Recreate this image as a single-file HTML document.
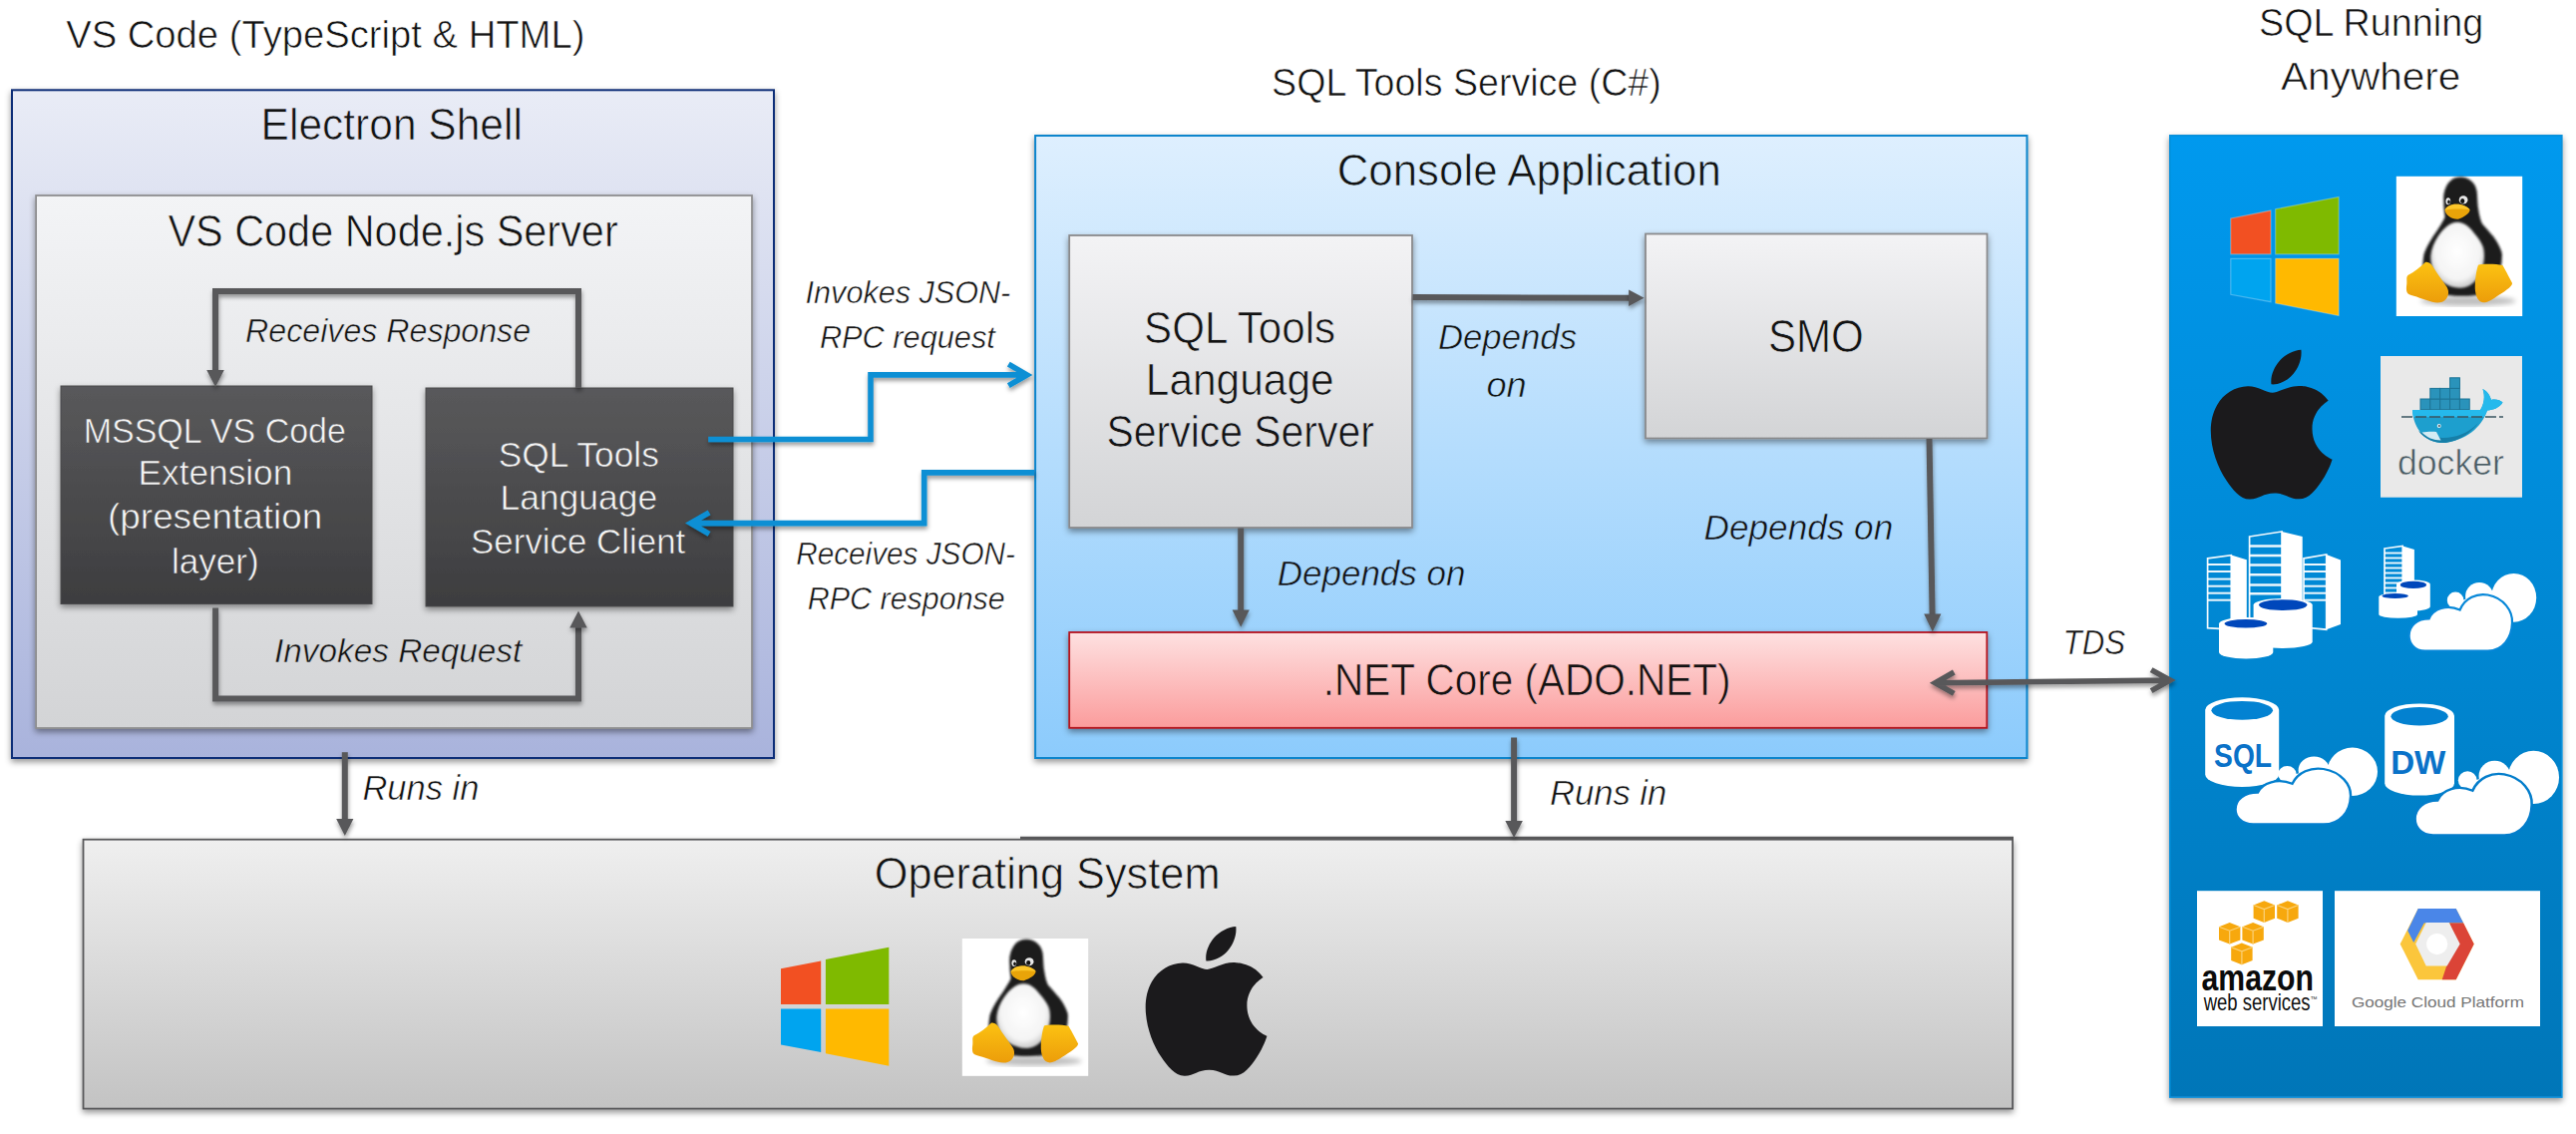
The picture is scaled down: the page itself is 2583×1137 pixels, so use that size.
<!DOCTYPE html>
<html lang="en"><head><meta charset="utf-8"><title>SQL Tools Service architecture</title>
<style>
html,body{margin:0;padding:0;background:#fff;}
body{width:2583px;height:1137px;overflow:hidden;}
svg{display:block;}
text{font-family:"Liberation Sans", Arial, sans-serif;}
</style></head><body>
<svg width="2583" height="1137" viewBox="0 0 2583 1137">
<defs>
<linearGradient id="gElectron" x1="0" y1="0" x2="0" y2="1"><stop offset="0" stop-color="#e9ecf6"/><stop offset="1" stop-color="#a9b3dc"/></linearGradient>
<linearGradient id="gNode" x1="0" y1="0" x2="0" y2="1"><stop offset="0" stop-color="#f3f4f6"/><stop offset="1" stop-color="#d3d4d6"/></linearGradient>
<linearGradient id="gDark" x1="0" y1="0" x2="0" y2="1"><stop offset="0" stop-color="#59595b"/><stop offset="1" stop-color="#3d3d3f"/></linearGradient>
<linearGradient id="gConsole" x1="0" y1="0" x2="0" y2="1"><stop offset="0" stop-color="#deeffe"/><stop offset="1" stop-color="#8ccbfc"/></linearGradient>
<linearGradient id="gGrey" x1="0" y1="0" x2="0" y2="1"><stop offset="0" stop-color="#f3f3f5"/><stop offset="1" stop-color="#d3d4d6"/></linearGradient>
<linearGradient id="gRed" x1="0" y1="0" x2="0" y2="1"><stop offset="0" stop-color="#fee1e1"/><stop offset="1" stop-color="#fb9c9c"/></linearGradient>
<linearGradient id="gOS" x1="0" y1="0" x2="0" y2="1"><stop offset="0" stop-color="#efefef"/><stop offset="1" stop-color="#c3c3c3"/></linearGradient>
<linearGradient id="gPanel" x1="0" y1="0" x2="0" y2="1"><stop offset="0" stop-color="#0099ee"/><stop offset="1" stop-color="#0076b8"/></linearGradient>
<filter id="sh" x="-5%" y="-5%" width="110%" height="115%"><feDropShadow dx="0" dy="3" stdDeviation="3" flood-color="#000" flood-opacity="0.42"/></filter>
<filter id="shl" x="0" y="0" width="2583" height="1137" filterUnits="userSpaceOnUse"><feDropShadow dx="0.5" dy="3" stdDeviation="2.2" flood-color="#000" flood-opacity="0.4"/></filter>
</defs>
<rect width="2583" height="1137" fill="#fff"/>

<rect x="12" y="90.3" width="764.0" height="669.7" fill="url(#gElectron)" stroke="#0a2d78" stroke-width="2" filter="url(#sh)"/>
<rect x="36.1" y="196" width="717.9" height="534.0" fill="url(#gNode)" stroke="#8e8e90" stroke-width="1.8" filter="url(#sh)"/>
<rect x="61" y="387" width="312.0" height="218.5" fill="url(#gDark)" stroke="#4a4a4c" stroke-width="1" filter="url(#sh)"/>
<rect x="427" y="389" width="308.0" height="219.0" fill="url(#gDark)" stroke="#4a4a4c" stroke-width="1" filter="url(#sh)"/>
<rect x="1038.1" y="136" width="994.4" height="624.0" fill="url(#gConsole)" stroke="#0a85cc" stroke-width="2" filter="url(#sh)"/>
<rect x="1072.2" y="236" width="343.8" height="293.0" fill="url(#gGrey)" stroke="#8a8a8c" stroke-width="1.8" filter="url(#sh)"/>
<rect x="1650" y="234.5" width="342.5" height="205.0" fill="url(#gGrey)" stroke="#8a8a8c" stroke-width="1.8" filter="url(#sh)"/>
<rect x="1072.2" y="634" width="920.1" height="95.8" fill="url(#gRed)" stroke="#b4121f" stroke-width="1.8" filter="url(#sh)"/>
<rect x="83.5" y="841.7" width="1934.6" height="269.9" fill="url(#gOS)" stroke="#58585a" stroke-width="1.8" filter="url(#sh)"/>
<line x1="1023" y1="840.2" x2="2019" y2="840.2" stroke="#58585a" stroke-width="3"/>
<rect x="2175.8" y="135.8" width="393" height="964.3" fill="url(#gPanel)" stroke="#0a90da" stroke-width="1.6" filter="url(#sh)"/>
<path d="M580,389 V292 H216 V373" fill="none" stroke="#58585a" stroke-width="6" stroke-linejoin="miter" filter="url(#shl)"/>
<polygon points="216,387.9 207.25,370.9 224.75,370.9" fill="#58585a" filter="url(#shl)"/>
<path d="M216.1,609.6 V700.4 H580 V628" fill="none" stroke="#58585a" stroke-width="6" stroke-linejoin="miter" filter="url(#shl)"/>
<polygon points="580,612.5 571.25,629.5 588.75,629.5" fill="#58585a" filter="url(#shl)"/>
<path d="M1416.5,298.1 L1634,298.8" fill="none" stroke="#58585a" stroke-width="6" stroke-linejoin="miter" filter="url(#shl)"/>
<polygon points="1648.6,298.8 1633.1,290.55 1633.1,307.05" fill="#58585a" filter="url(#shl)"/>
<path d="M1244.2,529.5 V613" fill="none" stroke="#58585a" stroke-width="6" stroke-linejoin="miter" filter="url(#shl)"/>
<polygon points="1244.2,628.8 1235.6000000000001,611.5999999999999 1252.8,611.5999999999999" fill="#58585a" filter="url(#shl)"/>
<path d="M1934.5,440 L1937.6,617" fill="none" stroke="#58585a" stroke-width="6" stroke-linejoin="miter" filter="url(#shl)"/>
<polygon points="1937.8,633.4 1929.2,615.4 1946.3999999999999,615.4" fill="#58585a" filter="url(#shl)"/>
<path d="M345.8,754.2 V823" fill="none" stroke="#58585a" stroke-width="6" stroke-linejoin="miter" filter="url(#shl)"/>
<polygon points="345.8,838 337.2,821 354.40000000000003,821" fill="#58585a" filter="url(#shl)"/>
<path d="M1518.1,739.5 V825" fill="none" stroke="#58585a" stroke-width="6" stroke-linejoin="miter" filter="url(#shl)"/>
<polygon points="1518.1,840 1509.35,823 1526.85,823" fill="#58585a" filter="url(#shl)"/>
<path d="M1940.5,684.7 L2176,682.1 M1959.3,674 L1940.5,684.7 L1959.3,695.4 M2157.1,671.6 L2176,682.1 L2157.1,692.6" fill="none" stroke="#58585a" stroke-width="5.6" stroke-linejoin="miter" filter="url(#shl)"/>
<path d="M710.2,440.5 H873 V375.9 H1029.8 M1011.3,365.2 L1029.8,375.9 L1011.3,386.6" fill="none" stroke="#0a8fd4" stroke-width="5.6" stroke-linejoin="miter" filter="url(#shl)"/>
<path d="M1037,473.9 H926.7 V524.6 H692.6 M711.1,513.9 L692.6,524.6 L711.1,535.3" fill="none" stroke="#0a8fd4" stroke-width="5.6" stroke-linejoin="miter" filter="url(#shl)"/>
<text x="66.2" y="47.8" font-size="38.37" fill="#131313" stroke="#ffffff" stroke-width="0.61" textLength="520.2" lengthAdjust="spacingAndGlyphs">VS Code (TypeScript &amp; HTML)</text>
<text x="261.6" y="140.4" font-size="44.77" fill="#131313" stroke="#e6e9f5" stroke-width="0.70" textLength="262.3" lengthAdjust="spacingAndGlyphs">Electron Shell</text>
<text x="168.4" y="247.0" font-size="44.77" fill="#131313" stroke="#f1f2f4" stroke-width="0.70" textLength="451.3" lengthAdjust="spacingAndGlyphs">VS Code Node.js Server</text>
<text x="246.1" y="342.6" font-size="33.58" font-style="italic" fill="#131313" stroke="#ebecee" stroke-width="0.53" textLength="286.0" lengthAdjust="spacingAndGlyphs">Receives Response</text>
<text x="83.7" y="444.1" font-size="35.32" fill="#f4f4f4" stroke="#535355" stroke-width="0.56" textLength="263.2" lengthAdjust="spacingAndGlyphs">MSSQL VS Code</text>
<text x="138.6" y="486.4" font-size="35.32" fill="#f4f4f4" stroke="#4d4d4f" stroke-width="0.56" textLength="154.7" lengthAdjust="spacingAndGlyphs">Extension</text>
<text x="108.1" y="530.2" font-size="35.32" fill="#f4f4f4" stroke="#494949" stroke-width="0.56" textLength="215.1" lengthAdjust="spacingAndGlyphs">(presentation</text>
<text x="171.9" y="574.6" font-size="35.32" fill="#f4f4f4" stroke="#424245" stroke-width="0.56" textLength="87.8" lengthAdjust="spacingAndGlyphs">layer)</text>
<text x="499.8" y="468.4" font-size="35.32" fill="#f4f4f4" stroke="#4f4f53" stroke-width="0.56" textLength="161.0" lengthAdjust="spacingAndGlyphs">SQL Tools</text>
<text x="501.4" y="510.8" font-size="35.32" fill="#f4f4f4" stroke="#4b4b4d" stroke-width="0.56" textLength="157.9" lengthAdjust="spacingAndGlyphs">Language</text>
<text x="472.1" y="554.9" font-size="35.32" fill="#f4f4f4" stroke="#454547" stroke-width="0.56" textLength="215.2" lengthAdjust="spacingAndGlyphs">Service Client</text>
<text x="275.0" y="664.4" font-size="33.87" font-style="italic" fill="#131313" stroke="#d8d9db" stroke-width="0.54" textLength="248.3" lengthAdjust="spacingAndGlyphs">Invokes Request</text>
<text x="807.6" y="304.4" font-size="30.67" font-style="italic" fill="#131313" stroke="#ffffff" stroke-width="0.49" textLength="205.7" lengthAdjust="spacingAndGlyphs">Invokes JSON-</text>
<text x="821.9" y="348.6" font-size="30.67" font-style="italic" fill="#131313" stroke="#ffffff" stroke-width="0.49" textLength="176.0" lengthAdjust="spacingAndGlyphs">RPC request</text>
<text x="798.2" y="566.4" font-size="30.67" font-style="italic" fill="#131313" stroke="#ffffff" stroke-width="0.49" textLength="219.7" lengthAdjust="spacingAndGlyphs">Receives JSON-</text>
<text x="809.8" y="610.8" font-size="30.67" font-style="italic" fill="#131313" stroke="#ffffff" stroke-width="0.49" textLength="197.9" lengthAdjust="spacingAndGlyphs">RPC response</text>
<text x="1275.1" y="96.4" font-size="38.37" fill="#131313" stroke="#ffffff" stroke-width="0.61" textLength="390.7" lengthAdjust="spacingAndGlyphs">SQL Tools Service (C#)</text>
<text x="1340.7" y="186.4" font-size="44.77" fill="#131313" stroke="#d9edfe" stroke-width="0.70" textLength="385.1" lengthAdjust="spacingAndGlyphs">Console Application</text>
<text x="1147.1" y="344.4" font-size="44.77" fill="#131313" stroke="#e9e9eb" stroke-width="0.70" textLength="192.0" lengthAdjust="spacingAndGlyphs">SQL Tools</text>
<text x="1148.8" y="396.3" font-size="44.77" fill="#131313" stroke="#e3e3e5" stroke-width="0.70" textLength="188.8" lengthAdjust="spacingAndGlyphs">Language</text>
<text x="1109.6" y="448.3" font-size="44.77" fill="#131313" stroke="#dddee0" stroke-width="0.70" textLength="268.2" lengthAdjust="spacingAndGlyphs">Service Server</text>
<text x="1441.9" y="350.3" font-size="35.61" font-style="italic" fill="#131313" stroke="#c3e3fd" stroke-width="0.57" textLength="139.2" lengthAdjust="spacingAndGlyphs">Depends</text>
<text x="1490.4" y="398.3" font-size="35.61" font-style="italic" fill="#131313" stroke="#bde0fd" stroke-width="0.57" textLength="40.3" lengthAdjust="spacingAndGlyphs">on</text>
<text x="1772.9" y="352.7" font-size="45.35" fill="#131313" stroke="#e3e3e5" stroke-width="0.70" textLength="96.0" lengthAdjust="spacingAndGlyphs">SMO</text>
<text x="1280.7" y="586.6" font-size="35.61" font-style="italic" fill="#131313" stroke="#a4d6fd" stroke-width="0.57" textLength="188.8" lengthAdjust="spacingAndGlyphs">Depends on</text>
<text x="1708.6" y="540.5" font-size="35.61" font-style="italic" fill="#131313" stroke="#aad8fd" stroke-width="0.57" textLength="189.6" lengthAdjust="spacingAndGlyphs">Depends on</text>
<text x="1326.7" y="696.8" font-size="44.77" fill="#131313" stroke="#fdbebe" stroke-width="0.70" textLength="408.9" lengthAdjust="spacingAndGlyphs">.NET Core (ADO.NET)</text>
<text x="2068.6" y="656.4" font-size="35.61" font-style="italic" fill="#131313" stroke="#ffffff" stroke-width="0.57" textLength="62.5" lengthAdjust="spacingAndGlyphs">TDS</text>
<text x="363.4" y="802.2" font-size="35.61" font-style="italic" fill="#131313" stroke="#ffffff" stroke-width="0.57" textLength="117.0" lengthAdjust="spacingAndGlyphs">Runs in</text>
<text x="1553.9" y="806.8" font-size="35.61" font-style="italic" fill="#131313" stroke="#ffffff" stroke-width="0.57" textLength="117.4" lengthAdjust="spacingAndGlyphs">Runs in</text>
<text x="876.7" y="890.5" font-size="43.90" fill="#131313" stroke="#e9e9e9" stroke-width="0.70" textLength="346.8" lengthAdjust="spacingAndGlyphs">Operating System</text>
<text x="2265.0" y="36.4" font-size="38.37" fill="#131313" stroke="#ffffff" stroke-width="0.61" textLength="225.2" lengthAdjust="spacingAndGlyphs">SQL Running</text>
<text x="2287.0" y="90.3" font-size="38.37" fill="#131313" stroke="#ffffff" stroke-width="0.61" textLength="180.4" lengthAdjust="spacingAndGlyphs">Anywhere</text>
<defs>
<radialGradient id="gBelly" cx="0.5" cy="0.45" r="0.6"><stop offset="0" stop-color="#ffffff"/><stop offset="0.7" stop-color="#f4f4f4"/><stop offset="1" stop-color="#b9b9b9"/></radialGradient>
<linearGradient id="gFoot" x1="0" y1="0" x2="0" y2="1"><stop offset="0" stop-color="#fcc212"/><stop offset="1" stop-color="#ec9d0a"/></linearGradient>
<filter id="blur1"><feGaussianBlur stdDeviation="1.2"/></filter>
<filter id="blur3"><feGaussianBlur stdDeviation="2.5"/></filter>
<g id="tux">
<rect x="0" y="0" width="126.4" height="140.2" fill="#ffffff"/>
<ellipse cx="72" cy="125" rx="48" ry="5" fill="#000" opacity="0.25" filter="url(#blur3)"/>
<path d="M64,0.8 C74,0.8 80.5,8 81,17 C81.5,24 81.5,27 82,31 C83,38 84,43 86,47.4 C89,51 92,54 95,57.7 C98,61 101,65 102.8,69.3 C105,74 106.5,77 106,80 C106,86 105,92 103,100 L98,112 C92,118 84,120 66,120 C50,120 40,118 33,112 C28,104 26,95 26.8,86 C27,82 27.5,79 28.1,77 C30,72 32,68 34.5,64.1 C37,60 40,56 42.2,52.5 C45,48 47.5,44 48.7,41 C48,36 47.6,30 47.4,24 C47,14 52,0.8 64,0.8 Z" fill="#1a1a1a" filter="url(#blur1)"/>
<path d="M61.6,46 C68,46 74,51 78,57 C84,64 88,70 88,76 C89,86 86,96 80,104 C76,109 70,112 64,112 C56,112 47,108 42,102 C37,96 34.2,88 34.5,80 C35,73 38,66 42,60 C46,54 53,46 61.6,46 Z" fill="url(#gBelly)" filter="url(#blur1)"/>
<ellipse cx="52" cy="25" rx="2.4" ry="3.5" fill="#e8e8e8"/><ellipse cx="67.3" cy="23.6" rx="4.4" ry="4.1" fill="#e8e8e8"/>
<ellipse cx="52.7" cy="25.8" rx="1.3" ry="2" fill="#111"/><ellipse cx="66.4" cy="24.8" rx="2.1" ry="2.5" fill="#111"/>
<path d="M48.7,34 C50,30 56,27.5 61,28 C66,28 72,30.5 73.8,33.5 C74,37 68,41 62,43 C56,43.5 49.5,39 48.7,34 Z" fill="#e9a409"/>
<path d="M48.7,34 C54,32.5 68,32.5 73.8,33.5 C72,30.5 66,28 61,28 C56,27.5 50,30 48.7,34 Z" fill="#fcc62a"/>
<path d="M29.4,86 C33,85.5 35,88 37,91 C40,96 46,104 50,110 C53,114 53,119 50,123 C47,127 41,127.5 36,126 C28,123.5 18,120 13,118.5 C9.5,117 10,112 10.5,108 C11,104 9.5,101 12,99 C18,96 24,91 29.4,86 Z" fill="url(#gFoot)"/>
<path d="M82.2,89 C86,87.5 100,87.5 106.6,89.2 C109,93 112,99 116.3,107.3 C116,111 108,116 100,121 C95,124.5 90,127 87,126.5 C82,126 79.5,120 79,113 C78.8,105 80,95 82.2,89 Z" fill="url(#gFoot)"/>
</g>
<path id="apple" d="M12.152 6.896c-.948 0-2.415-1.078-3.96-1.04-2.04.027-3.91 1.183-4.961 3.014-2.117 3.675-.546 9.103 1.519 12.09 1.013 1.454 2.208 3.09 3.792 3.039 1.52-.065 2.09-.987 3.935-.987 1.831 0 2.35.987 3.96.948 1.637-.026 2.676-1.48 3.676-2.948 1.156-1.688 1.636-3.325 1.662-3.415-.039-.013-3.182-1.221-3.22-4.857-.026-3.04 2.48-4.494 2.597-4.559-1.429-2.09-3.623-2.324-4.39-2.376-2-.156-3.675 1.09-4.61 1.09zM15.53 3.83c.843-1.012 1.4-2.427 1.245-3.83-1.207.052-2.662.805-3.532 1.818-.78.896-1.454 2.338-1.273 3.714 1.338.104 2.715-.688 3.559-1.701"/>
</defs>
<g transform="translate(2236.8,197.5)" stroke="#ffffff" stroke-opacity="0.28" stroke-width="1.2">
<polygon points="0,21.5 40.2,13.6 40.2,57.3 0,57.3" fill="#f25022"/>
<polygon points="44.9,12.2 108.3,0 108.3,57.3 44.9,57.3" fill="#7fba00"/>
<polygon points="0,61.8 40.2,61.8 40.2,105.2 0,97.8" fill="#00a4ef"/>
<polygon points="44.9,61.8 108.3,61.8 108.3,119 44.9,106.5" fill="#ffb900"/>
</g>
<use href="#tux" transform="translate(2402.8,176.8)"/>
<use href="#apple" fill="#1b1a1c" transform="translate(2202.93,350.80) scale(6.2277,6.2417)"/>
<g transform="translate(783,949.8)">
<polygon points="0,21.5 40.2,13.6 40.2,57.3 0,57.3" fill="#f25022"/>
<polygon points="44.9,12.2 108.3,0 108.3,57.3 44.9,57.3" fill="#7fba00"/>
<polygon points="0,61.8 40.2,61.8 40.2,105.2 0,97.8" fill="#00a4ef"/>
<polygon points="44.9,61.8 108.3,61.8 108.3,119 44.9,106.5" fill="#ffb900"/>
</g>
<use href="#tux" transform="translate(964.8,941) scale(1,0.983)"/>
<use href="#apple" fill="#1b1a1c" transform="translate(1134.83,928.90) scale(6.2277,6.2458)"/>
<g>
<rect x="2387" y="357" width="142" height="141.7" fill="#e9e9e9"/>
<rect x="2427.0" y="400.0" width="9.85" height="10.6" fill="#2a93bb" stroke="#1c7496" stroke-width="1"/>
<rect x="2436.8" y="400.0" width="9.85" height="10.6" fill="#2a93bb" stroke="#1c7496" stroke-width="1"/>
<rect x="2446.7" y="400.0" width="9.85" height="10.6" fill="#2a93bb" stroke="#1c7496" stroke-width="1"/>
<rect x="2456.6" y="400.0" width="9.85" height="10.6" fill="#2a93bb" stroke="#1c7496" stroke-width="1"/>
<rect x="2466.4" y="400.0" width="9.85" height="10.6" fill="#2a93bb" stroke="#1c7496" stroke-width="1"/>
<rect x="2436.8" y="389.4" width="9.85" height="10.6" fill="#2a93bb" stroke="#1c7496" stroke-width="1"/>
<rect x="2446.7" y="389.4" width="9.85" height="10.6" fill="#2a93bb" stroke="#1c7496" stroke-width="1"/>
<rect x="2456.5" y="389.4" width="9.85" height="10.6" fill="#2a93bb" stroke="#1c7496" stroke-width="1"/>
<rect x="2456.6" y="378.8" width="9.85" height="10.6" fill="#2a93bb" stroke="#1c7496" stroke-width="1"/>
<path d="M2419,411 H2487 C2491,405 2492,397 2489.5,390 C2494,392 2497,397 2498,401 C2502,400 2507,401 2509.5,403.5 C2506,409 2500,411 2494,411.5 C2490,424 2478,440 2452,444 C2432,445 2420,430 2419,411 Z" fill="#1d9fce"/>
<path d="M2419,411 H2487 C2491,405 2492,397 2489.5,390 C2494,392 2497,397 2498,401 C2502,400 2507,401 2509.5,403.5 C2506,409 2500,411 2494,411.5 C2493,414 2492,416 2491,418 H2420 C2419.4,416 2419,413 2419,411 Z" fill="#25b9ec"/>
<path d="M2425,432 C2432,441 2442,444.5 2452,444 C2466,442 2478,434 2485,424 C2476,434 2462,439 2450,439 C2440,439 2431,436 2425,432 Z" fill="#167fa8"/>
<path d="M2428.5,433.5 C2434,432.5 2440,432.5 2443,433 L2447.5,441.5 C2440,441.5 2433,438.5 2428.5,433.5 Z" fill="#d5ebf3"/>
<path d="M2408,418 H2510" stroke="#3a5560" stroke-width="1.6" stroke-dasharray="11 3" fill="none"/>
<circle cx="2445.7" cy="427" r="2" fill="#e9f4f8"/><circle cx="2445.9" cy="427" r="1" fill="#43505a"/>
<text x="2404.0" y="475.7" font-size="35.00" fill="#4a5c64" stroke="#e9e9e9" stroke-width="0.56" textLength="106.9" lengthAdjust="spacingAndGlyphs">docker</text>
</g>
<polygon points="2237.3,556.6 2252.8,561.2 2252.8,626 2237.3,631" fill="#ffffff"/>
<polygon points="2213.6,559.8 2237.3,556.6 2237.3,631 2213.6,629.6" fill="none" stroke="#ffffff" stroke-width="1.7" stroke-opacity="0.95"/>
<line x1="2213.6" y1="566.0" x2="2237.3" y2="566.0" stroke="#ffffff" stroke-width="2.0" stroke-opacity="0.93"/>
<line x1="2213.6" y1="573.0" x2="2237.3" y2="573.0" stroke="#ffffff" stroke-width="2.0" stroke-opacity="0.93"/>
<line x1="2213.6" y1="580.6" x2="2237.3" y2="580.6" stroke="#ffffff" stroke-width="2.0" stroke-opacity="0.93"/>
<line x1="2213.6" y1="587.7" x2="2237.3" y2="587.7" stroke="#ffffff" stroke-width="2.0" stroke-opacity="0.93"/>
<line x1="2213.6" y1="594.7" x2="2237.3" y2="594.7" stroke="#ffffff" stroke-width="2.0" stroke-opacity="0.93"/>
<line x1="2213.6" y1="601.7" x2="2237.3" y2="601.7" stroke="#ffffff" stroke-width="2.0" stroke-opacity="0.93"/>
<polygon points="2288,533 2308.7,538 2308.7,606 2288,620" fill="#ffffff"/>
<polygon points="2255.6,538 2288,533 2288,620 2255.6,620" fill="none" stroke="#ffffff" stroke-width="1.7" stroke-opacity="0.95"/>
<line x1="2255.6" y1="547.4" x2="2288" y2="547.4" stroke="#ffffff" stroke-width="2.5" stroke-opacity="0.93"/>
<line x1="2255.6" y1="557.0" x2="2288" y2="557.0" stroke="#ffffff" stroke-width="2.5" stroke-opacity="0.93"/>
<line x1="2255.6" y1="566.6" x2="2288" y2="566.6" stroke="#ffffff" stroke-width="2.5" stroke-opacity="0.93"/>
<line x1="2255.6" y1="576.2" x2="2288" y2="576.2" stroke="#ffffff" stroke-width="2.5" stroke-opacity="0.93"/>
<line x1="2255.6" y1="586.4" x2="2288" y2="586.4" stroke="#ffffff" stroke-width="2.5" stroke-opacity="0.93"/>
<line x1="2255.6" y1="595.3" x2="2288" y2="595.3" stroke="#ffffff" stroke-width="2.5" stroke-opacity="0.93"/>
<polygon points="2332.7,556 2347,561.4 2347,626 2332.7,631.2" fill="#ffffff"/>
<polygon points="2310,559.8 2332.7,556 2332.7,631.2 2310,629" fill="none" stroke="#ffffff" stroke-width="1.7" stroke-opacity="0.95"/>
<line x1="2310" y1="566.0" x2="2332.7" y2="566.0" stroke="#ffffff" stroke-width="2.0" stroke-opacity="0.93"/>
<line x1="2310" y1="573.0" x2="2332.7" y2="573.0" stroke="#ffffff" stroke-width="2.0" stroke-opacity="0.93"/>
<line x1="2310" y1="580.6" x2="2332.7" y2="580.6" stroke="#ffffff" stroke-width="2.0" stroke-opacity="0.93"/>
<line x1="2310" y1="587.7" x2="2332.7" y2="587.7" stroke="#ffffff" stroke-width="2.0" stroke-opacity="0.93"/>
<line x1="2310" y1="594.7" x2="2332.7" y2="594.7" stroke="#ffffff" stroke-width="2.0" stroke-opacity="0.93"/>
<line x1="2310" y1="601.7" x2="2332.7" y2="601.7" stroke="#ffffff" stroke-width="2.0" stroke-opacity="0.93"/>
<path d="M2259.6,606.6 A29.549999999999955,6.5 0 0 1 2318.7,606.6 V643.5 A29.549999999999955,6.5 0 0 1 2259.6,643.5 Z" fill="#ffffff"/>
<ellipse cx="2289.2" cy="606.6" rx="24.2" ry="5.4" fill="#0047bb"/>
<path d="M2225,625.5 A27.15000000000009,6.5 0 0 1 2279.3,625.5 V654 A27.15000000000009,6.5 0 0 1 2225,654 Z" fill="#ffffff"/>
<ellipse cx="2251.9" cy="625.3" rx="21.4" ry="4.3" fill="#0047bb"/>
<polygon points="2409.2,547.5 2420.9,551 2420.9,585 2409.2,598" fill="#ffffff"/>
<polygon points="2391,550 2409.2,547.5 2409.2,598 2391,598" fill="none" stroke="#ffffff" stroke-width="1.7" stroke-opacity="0.95"/>
<line x1="2391" y1="554.5" x2="2409.2" y2="554.5" stroke="#ffffff" stroke-width="1.9" stroke-opacity="0.93"/>
<line x1="2391" y1="559.5" x2="2409.2" y2="559.5" stroke="#ffffff" stroke-width="1.9" stroke-opacity="0.93"/>
<line x1="2391" y1="564.5" x2="2409.2" y2="564.5" stroke="#ffffff" stroke-width="1.9" stroke-opacity="0.93"/>
<line x1="2391" y1="569.5" x2="2409.2" y2="569.5" stroke="#ffffff" stroke-width="1.9" stroke-opacity="0.93"/>
<line x1="2391" y1="574.5" x2="2409.2" y2="574.5" stroke="#ffffff" stroke-width="1.9" stroke-opacity="0.93"/>
<line x1="2391" y1="579.5" x2="2409.2" y2="579.5" stroke="#ffffff" stroke-width="1.9" stroke-opacity="0.93"/>
<line x1="2391" y1="584.5" x2="2409.2" y2="584.5" stroke="#ffffff" stroke-width="1.9" stroke-opacity="0.93"/>
<line x1="2391" y1="589.5" x2="2409.2" y2="589.5" stroke="#ffffff" stroke-width="1.9" stroke-opacity="0.93"/>
<line x1="2391" y1="594.5" x2="2409.2" y2="594.5" stroke="#ffffff" stroke-width="1.9" stroke-opacity="0.93"/>
<path d="M2403,586 A16.90000000000009,4.5 0 0 1 2436.8,586 V608 A16.90000000000009,4.5 0 0 1 2403,608 Z" fill="#ffffff"/>
<ellipse cx="2419.9" cy="586.4" rx="13.1" ry="3.6" fill="#0047bb"/>
<path d="M2385.3,598.5 A19.34999999999991,3.8 0 0 1 2424,598.5 V616 A19.34999999999991,3.8 0 0 1 2385.3,616 Z" fill="#ffffff"/>
<ellipse cx="2401.7" cy="597.5" rx="13.1" ry="2.5" fill="#0047bb"/>
<g transform="translate(2415.6,575.5) scale(1.0,1.0)">
<g fill="#ffffff"><ellipse cx="105" cy="23.8" rx="22.6" ry="24.4"/><circle cx="70.5" cy="22.4" r="14"/><circle cx="46.5" cy="26.4" r="8.3"/><polygon points="42,30 105,10 105,46 60,46"/></g>
<path d="M16,77 C5,77 0,69 0,62 C0,52 8,45 20,45 C24,35 38,30 51,36 C56,24 68,19 79,21 C95,24 104,37 103.4,49 C103,64 94,77 79,77 Z" fill="#ffffff" stroke="#0687d8" stroke-width="2.2"/>
</g>
<path d="M2211.2,711.8 A37.0,12.6 0 0 1 2285.2,711.8 V776.4 A37.0,12.6 0 0 1 2211.2,776.4 Z" fill="#ffffff"/>
<ellipse cx="2248.2" cy="712.3" rx="30.8" ry="9.399999999999999" fill="#0382d2"/>
<text x="2220.1" y="768.8" font-size="33.20" font-weight="bold" fill="#0a72c8" textLength="58.0" lengthAdjust="spacingAndGlyphs">SQL</text>
<g transform="translate(2241.5,750.2) scale(1.117,0.99)">
<g fill="#ffffff"><ellipse cx="105" cy="23.8" rx="22.6" ry="24.4"/><circle cx="70.5" cy="22.4" r="14"/><circle cx="46.5" cy="26.4" r="8.3"/><polygon points="42,30 105,10 105,46 60,46"/></g>
<path d="M16,77 C5,77 0,69 0,62 C0,52 8,45 20,45 C24,35 38,30 51,36 C56,24 68,19 79,21 C95,24 104,37 103.4,49 C103,64 94,77 79,77 Z" fill="#ffffff" stroke="#037fce" stroke-width="2.2"/>
</g>
<path d="M2391.2,717.8 A34.90000000000009,12.4 0 0 1 2461,717.8 V785.2 A34.90000000000009,12.4 0 0 1 2391.2,785.2 Z" fill="#ffffff"/>
<ellipse cx="2426.1" cy="718.3" rx="28.70000000000009" ry="9.2" fill="#0381d0"/>
<text x="2397.2" y="776.0" font-size="33.20" font-weight="bold" fill="#0a72c8" textLength="55.2" lengthAdjust="spacingAndGlyphs">DW</text>
<g transform="translate(2421.6,753.5) scale(1.132,1.09)">
<g fill="#ffffff"><ellipse cx="105" cy="23.8" rx="22.6" ry="24.4"/><circle cx="70.5" cy="22.4" r="14"/><circle cx="46.5" cy="26.4" r="8.3"/><polygon points="42,30 105,10 105,46 60,46"/></g>
<path d="M16,77 C5,77 0,69 0,62 C0,52 8,45 20,45 C24,35 38,30 51,36 C56,24 68,19 79,21 C95,24 104,37 103.4,49 C103,64 94,77 79,77 Z" fill="#ffffff" stroke="#037dcb" stroke-width="2.2"/>
</g>
<rect x="2203" y="893.2" width="126" height="135.8" fill="#ffffff"/>
<path d="M2270.2999999999997,903.3 L2281.0,907.5 V920.6999999999999 L2270.2999999999997,924.9 L2259.6,920.6999999999999 V907.5 Z" fill="#f7a80d"/>
<path d="M2259.6,907.5 L2270.2999999999997,911.5 L2281.0,907.5 M2270.2999999999997,911.5 V924.9" stroke="#fbd27a" stroke-width="1.2" fill="none"/>
<path d="M2293.8999999999996,903.3 L2304.6,907.5 V920.6999999999999 L2293.8999999999996,924.9 L2283.2,920.6999999999999 V907.5 Z" fill="#f7a80d"/>
<path d="M2283.2,907.5 L2293.8999999999996,911.5 L2304.6,907.5 M2293.8999999999996,911.5 V924.9" stroke="#fbd27a" stroke-width="1.2" fill="none"/>
<path d="M2235.7,925 L2246.4,929.2 V942.4 L2235.7,946.6 L2225,942.4 V929.2 Z" fill="#f7a80d"/>
<path d="M2225,929.2 L2235.7,933.2 L2246.4,929.2 M2235.7,933.2 V946.6" stroke="#fbd27a" stroke-width="1.2" fill="none"/>
<path d="M2259.1,925 L2269.8,929.2 V942.4 L2259.1,946.6 L2248.4,942.4 V929.2 Z" fill="#f7a80d"/>
<path d="M2248.4,929.2 L2259.1,933.2 L2269.8,929.2 M2259.1,933.2 V946.6" stroke="#fbd27a" stroke-width="1.2" fill="none"/>
<path d="M2247.8999999999996,945.6 L2258.6,949.8000000000001 V963.0 L2247.8999999999996,967.2 L2237.2,963.0 V949.8000000000001 Z" fill="#f7a80d"/>
<path d="M2237.2,949.8000000000001 L2247.8999999999996,953.8000000000001 L2258.6,949.8000000000001 M2247.8999999999996,953.8000000000001 V967.2" stroke="#fbd27a" stroke-width="1.2" fill="none"/>
<text x="2207.6" y="992.8" font-size="37.00" font-weight="bold" fill="#0b0b0b" textLength="112.3" lengthAdjust="spacingAndGlyphs">amazon</text>
<text x="2209.7" y="1013.2" font-size="24.00" fill="#111" textLength="106.9" lengthAdjust="spacingAndGlyphs">web services</text>
<text x="2316.5" y="1004" font-size="7" fill="#333">™</text>
<rect x="2341" y="893.2" width="206" height="135.8" fill="#ffffff"/>
<g transform="translate(2443.7,946.6)">
<polygon points="-19,-35.6 19,-35.6 37,0 19,35.6 -19,35.6 -37,0" fill="#fbc63c"/>
<polygon points="-19,-35.6 19,-35.6 26.5,-21 12.5,-21 -13,-21 -23.5,-1.5 -29.5,-13.5" fill="#4a86e8"/>
<polygon points="26.5,-21 37,0 19,35.6 5,35.6 9.5,22 21,0 12.5,-21" fill="#db4437"/>
<polygon points="-11,-21.5 12,-21.5 23,0 10,22 -11,22 -21.5,0" fill="#eeeeee"/>
<circle cx="0" cy="0" r="10.6" fill="#ffffff"/>
</g>
<text x="2357.9" y="1010.2" font-size="15.00" fill="#757575" textLength="173.2" lengthAdjust="spacingAndGlyphs">Google Cloud Platform</text>
</svg></body></html>
